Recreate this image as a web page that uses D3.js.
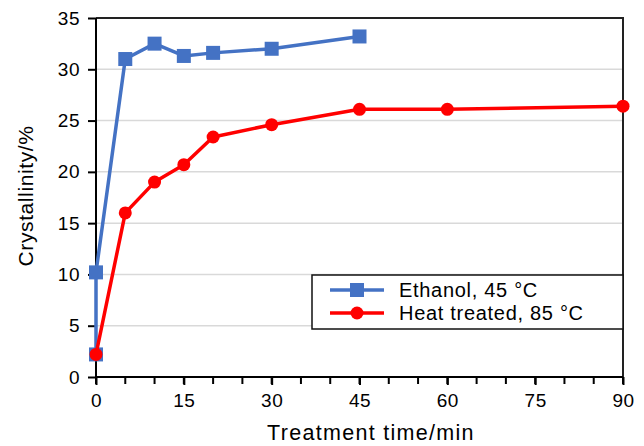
<!DOCTYPE html>
<html>
<head>
<meta charset="utf-8">
<script src="https://cdn.jsdelivr.net/npm/d3@7"></script>
<style>
  body { margin: 0; background: #fff; }
  svg text { font-family: "Liberation Sans", Arial, Helvetica, sans-serif; fill: #000; }
</style>
</head>
<body>
<div id="chart"></div>
<script>
// data
const ethanolTime = [0, 0, 5, 10, 15, 20, 30, 45];
const ethanolCryst = [2.2, 10.2, 31.0, 32.5, 31.3, 31.6, 32.0, 33.2];
const heatTime = [0, 5, 10, 15, 20, 30, 45, 60, 90];
const heatCryst = [2.2, 16.0, 19.0, 20.7, 23.4, 24.6, 26.1, 26.1, 26.4];
const xTicks = [0, 15, 30, 45, 60, 75, 90];
const xMinorTicks = d3.range(0, 91, 5);
const yTicks = [0, 5, 10, 15, 20, 25, 30, 35];
const seriesNames = ['Ethanol, 45 °C', 'Heat treated, 85 °C'];

const width = 644, height = 446;
const margin = { top: 18, right: 21, bottom: 69, left: 96 };
const w = width - margin.left - margin.right;
const h = height - margin.top - margin.bottom;

const blue = '#4472C4', red = '#FF0000';

const svg = d3.select('#chart').append('svg')
  .attr('width', width)
  .attr('height', height);

const g = svg.append('g')
  .attr('transform', `translate(${margin.left}, ${margin.top})`);

const x = d3.scaleLinear().domain([0, 90]).range([0, w]);
const y = d3.scaleLinear().domain([0, 35]).range([h, 0]);

// gridlines
g.selectAll('.grid')
  .data(yTicks.filter(d => d > 0 && d < 35))
  .join('line')
    .attr('class', 'grid')
    .attr('x1', 0).attr('x2', w)
    .attr('y1', d => y(d)).attr('y2', d => y(d))
    .attr('stroke', '#d9d9d9')
    .attr('stroke-width', 1.5);

// frame (top + right)
g.append('path')
  .attr('d', `M0,0H${w}V${h}`)
  .attr('fill', 'none')
  .attr('stroke', '#222')
  .attr('stroke-width', 2);

// minor x ticks
g.selectAll('.minor')
  .data(xMinorTicks)
  .join('line')
    .attr('class', 'minor')
    .attr('x1', d => x(d)).attr('x2', d => x(d))
    .attr('y1', h).attr('y2', h + 7)
    .attr('stroke', '#000')
    .attr('stroke-width', 2);

// axes
const xAxis = d3.axisBottom(x).tickValues(xTicks).tickSize(8).tickPadding(9);
const yAxis = d3.axisLeft(y).tickValues(yTicks).tickSize(8).tickPadding(8);

const xg = g.append('g').attr('transform', `translate(0, ${h})`).call(xAxis);
const yg = g.append('g').call(yAxis);
[xg, yg].forEach(a => {
  a.select('.domain').attr('stroke', '#000').attr('stroke-width', 2);
  a.selectAll('.tick line').attr('stroke', '#000').attr('stroke-width', 2);
  a.selectAll('.tick text').attr('font-size', 19).attr('letter-spacing', 0.5).attr('fill', '#000');
  a.attr('font-family', null);
});
yg.select('.domain').attr('d', `M0,0V${h}`);
xg.select('.domain').attr('d', `M0,0H${w}`);

// lines
const line = d3.line().x(d => x(d[0])).y(d => y(d[1]));
const ethanol = ethanolTime.map((t, i) => [t, ethanolCryst[i]]);
const heat = heatTime.map((t, i) => [t, heatCryst[i]]);

const sq = 14;
g.append('path').datum(ethanol)
  .attr('d', line)
  .attr('fill', 'none').attr('stroke', blue).attr('stroke-width', 3.5)
  .attr('stroke-linejoin', 'round');
g.selectAll('.sq')
  .data(ethanol)
  .join('rect')
    .attr('class', 'sq')
    .attr('x', d => x(d[0]) - sq / 2).attr('y', d => y(d[1]) - sq / 2)
    .attr('width', sq).attr('height', sq)
    .attr('fill', blue);

g.append('path').datum(heat)
  .attr('d', line)
  .attr('fill', 'none').attr('stroke', red).attr('stroke-width', 3.5)
  .attr('stroke-linejoin', 'round');
g.selectAll('.dot')
  .data(heat)
  .join('circle')
    .attr('class', 'dot')
    .attr('cx', d => x(d[0])).attr('cy', d => y(d[1]))
    .attr('r', 6.5)
    .attr('fill', red);

// axis titles
svg.append('text')
  .attr('x', 371).attr('y', 440)
  .attr('text-anchor', 'middle')
  .attr('font-size', 21.5)
  .attr('letter-spacing', 1.3)
  .text('Treatment time/min');

svg.append('text')
  .attr('transform', `translate(33, 196) rotate(-90)`)
  .attr('text-anchor', 'middle')
  .attr('font-size', 21)
  .attr('letter-spacing', 0.6)
  .text('Crystallinity/%');

// legend
const leg = svg.append('g').attr('transform', 'translate(312, 275)');
leg.append('rect')
  .attr('width', 311).attr('height', 54)
  .attr('fill', '#fff').attr('stroke', '#111').attr('stroke-width', 1.5);

const items = leg.selectAll('.item')
  .data(seriesNames)
  .join('g')
    .attr('class', 'item')
    .attr('transform', (d, i) => `translate(0, ${15 + i * 23})`);
items.append('line')
  .attr('x1', 18).attr('x2', 72)
  .attr('stroke', (d, i) => i === 0 ? blue : red)
  .attr('stroke-width', 3.5);
items.each(function (d, i) {
  const it = d3.select(this);
  if (i === 0) {
    it.append('rect').attr('x', 45 - 7).attr('y', -7).attr('width', 14).attr('height', 14).attr('fill', blue);
  } else {
    it.append('circle').attr('cx', 45).attr('r', 6.5).attr('fill', red);
  }
});
items.append('text')
  .attr('x', 87).attr('dy', '0.35em')
  .attr('font-size', 20)
  .attr('letter-spacing', 0.7)
  .text(d => d);
</script>
</body>
</html>
